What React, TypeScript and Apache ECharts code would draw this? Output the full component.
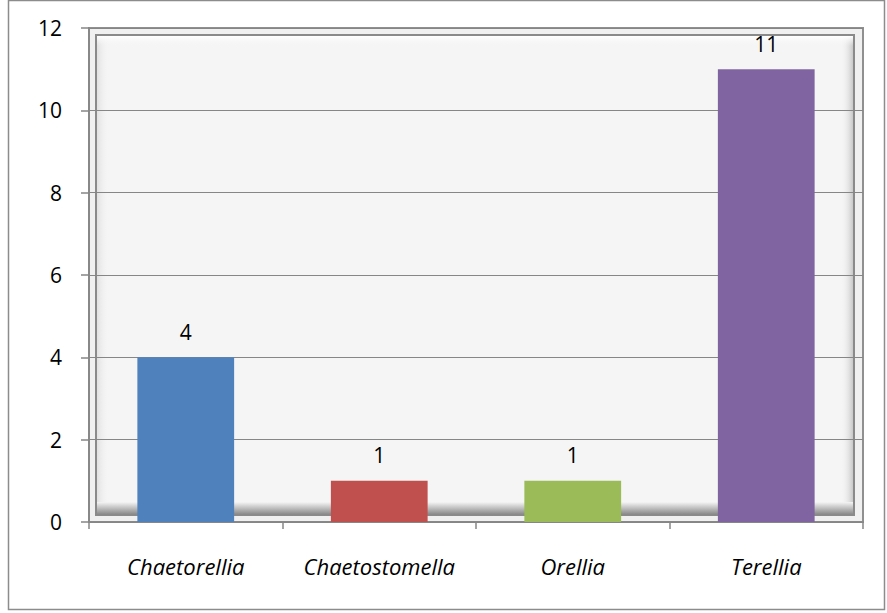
import React, { useEffect, useRef } from "react";
import * as echarts from "echarts";

const categories = ["Chaetorellia", "Chaetostomella", "Orellia", "Terellia"];
const values = [4, 1, 1, 11];
const colors = ["#4F81BD", "#C0504D", "#9BBB59", "#8064A2"];
const yTicks = [0, 2, 4, 6, 8, 10, 12];

const G = { left: 89, top: 28, right: 887 - 863, bottom: 613 - 522 };

export default function App() {
  const ref = useRef<HTMLDivElement>(null);
  useEffect(() => {
    if (!ref.current) return;
    const chart = echarts.init(ref.current, undefined, { renderer: "svg" });
    const x0 = G.left, y0 = G.top, x1 = 863, y1 = 522;
    const font = "'Open Sans', 'Noto Sans', sans-serif";
    const ix0 = x0 + 7, iy0 = y0 + 7, ix1 = x1 - 9, iy1 = y1 - 7;
    chart.setOption({
      animation: false,
      backgroundColor: "#ffffff",
      grid: { left: G.left, top: G.top, right: G.right, bottom: G.bottom, containLabel: false },
      graphic: [
        { type: "rect", z: -20, silent: true, shape: { x: 8.5, y: 0.5, width: 876, height: 609 }, style: { fill: "#fff", stroke: "#8c8c8c", lineWidth: 1.5 } },
        { type: "rect", z: -19, silent: true, shape: { x: x0, y: y0, width: x1 - x0, height: y1 - y0 }, style: { fill: "#f0f0f0", stroke: "#909090", lineWidth: 2 } },
        { type: "rect", z: -18, silent: true, shape: { x: ix0, y: iy0, width: ix1 - ix0, height: iy1 - iy0 }, style: { fill: "#f5f5f5", stroke: "#8a8a8a", lineWidth: 2 } },
        { type: "rect", z: -17, silent: true, shape: { x: ix0 + 1, y: iy1 - 13, width: ix1 - ix0 - 2, height: 12 }, style: { fill: new echarts.graphic.LinearGradient(0, 0, 0, 1, [{ offset: 0, color: "rgba(245,245,245,1)" }, { offset: 1, color: "rgba(140,140,140,1)" }]) } },
        { type: "rect", z: -17, silent: true, shape: { x: ix1 - 13, y: iy0 + 1, width: 12, height: iy1 - iy0 - 14 }, style: { fill: new echarts.graphic.LinearGradient(0, 0, 1, 0, [{ offset: 0, color: "rgba(245,245,245,0)" }, { offset: 1, color: "rgba(200,200,200,1)" }]) } },
        { type: "rect", z: -17, silent: true, shape: { x: ix0 + 1, y: iy0 + 1, width: 12, height: iy1 - iy0 - 14 }, style: { fill: new echarts.graphic.LinearGradient(0, 0, 1, 0, [{ offset: 0, color: "rgba(225,225,225,1)" }, { offset: 1, color: "rgba(245,245,245,0)" }]) } },
        { type: "rect", z: -17, silent: true, shape: { x: ix0 + 1, y: iy0 + 1, width: ix1 - ix0 - 2, height: 10 }, style: { fill: new echarts.graphic.LinearGradient(0, 0, 0, 1, [{ offset: 0, color: "rgba(255,255,255,1)" }, { offset: 1, color: "rgba(245,245,245,0)" }]) } },
      ],
      xAxis: {
        type: "category",
        data: categories,
        boundaryGap: true,
        axisLine: { show: true, lineStyle: { color: "#868686", width: 1.5 } },
        axisTick: { show: true, interval: 0, length: 7, alignWithLabel: false, lineStyle: { color: "#868686", width: 1.5 } },
        axisLabel: { interval: 0, hideOverlap: false, margin: 33, fontFamily: font, fontSize: 22, fontStyle: "italic", color: "#000" },
        splitLine: { show: false },
      },
      yAxis: {
        type: "value",
        min: 0,
        max: 12,
        interval: 2,
        axisLine: { show: true, lineStyle: { color: "#868686", width: 1.5 } },
        axisTick: { show: true, length: 8, lineStyle: { color: "#868686", width: 1.5 } },
        axisLabel: {
          margin: 27,
          fontFamily: font,
          fontSize: 21,
          color: "#000",
          formatter: (v: number) => (yTicks.includes(v) ? String(v) : ""),
        },
        splitLine: { show: true, lineStyle: { color: "#868686", width: 1.2 } },
      },
      series: [
        {
          type: "bar",
          barWidth: "50%",
          data: values.map((v, i) => ({ value: v, itemStyle: { color: colors[i] } })),
          label: { show: true, position: "top", distance: 15, fontFamily: font, fontSize: 21, color: "#000" },
        },
      ],
    });
    return () => chart.dispose();
  }, []);
  return <div ref={ref} style={{ width: 887, height: 613, position: "absolute", left: 0, top: 0 }} />;
}
